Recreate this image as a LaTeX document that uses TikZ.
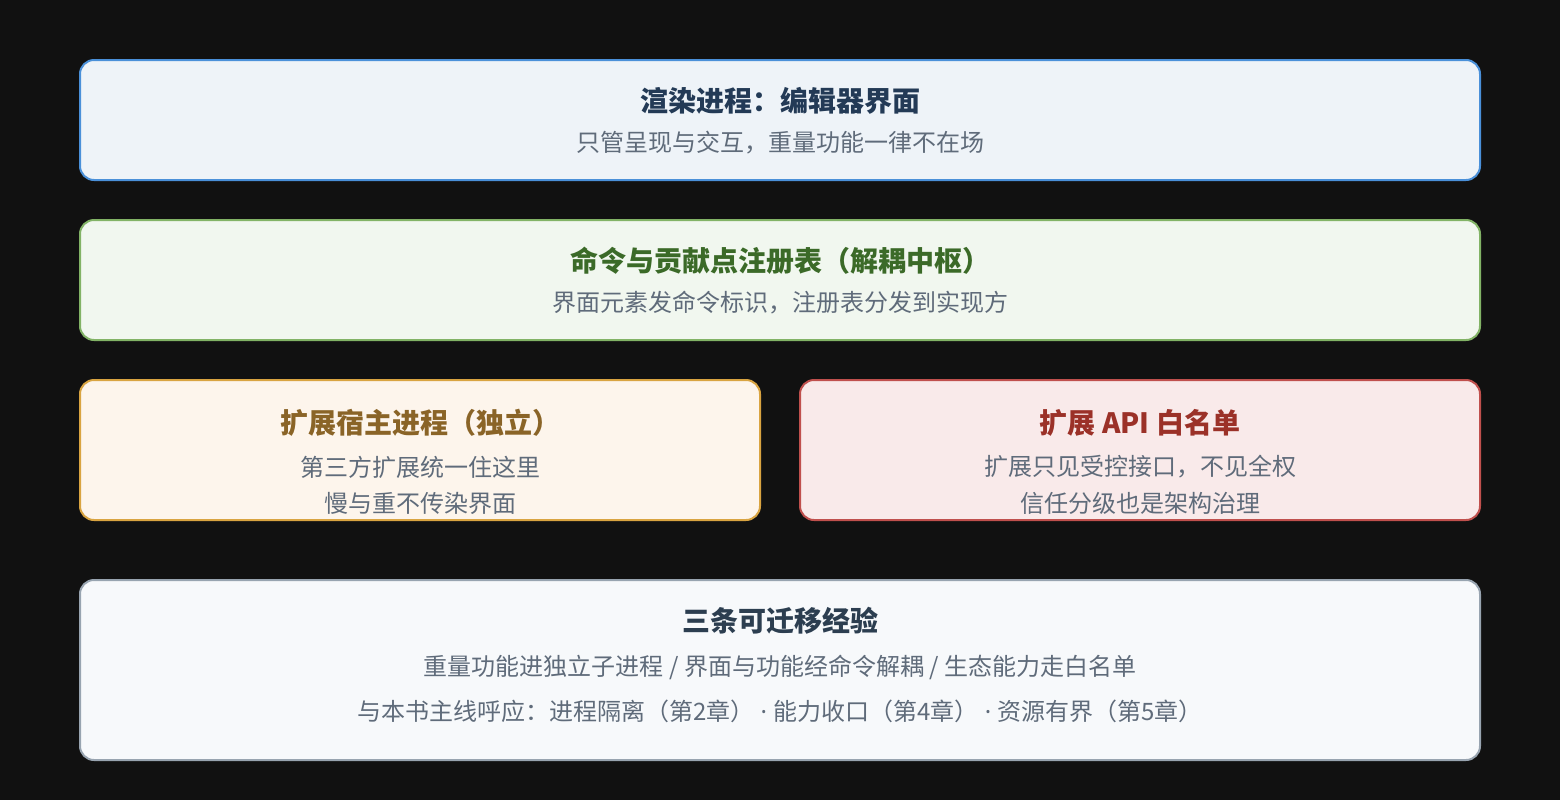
\documentclass[tikz,border=0pt]{standalone}
\usepackage{fontspec}
\setmainfont{Noto Sans CJK SC}
\newfontfamily\latin{Noto Sans}
\usepackage{tikz}
\usetikzlibrary{positioning}
\definecolor{bg}{HTML}{111111}
\definecolor{subgrey}{HTML}{5F6B7A}
\definecolor{blueline}{HTML}{4A90D9}
\definecolor{bluefill}{HTML}{EEF3F8}
\definecolor{bluetext}{HTML}{233A56}
\definecolor{greenline}{HTML}{82B366}
\definecolor{greenfill}{HTML}{F1F7EF}
\definecolor{greentext}{HTML}{3B6A28}
\definecolor{orangeline}{HTML}{D9A441}
\definecolor{orangefill}{HTML}{FDF5EC}
\definecolor{orangetext}{HTML}{8A6427}
\definecolor{redline}{HTML}{C0504D}
\definecolor{redfill}{HTML}{F9EAEA}
\definecolor{redtext}{HTML}{9B3128}
\definecolor{greyline}{HTML}{98A4B0}
\definecolor{greyfill}{HTML}{F7F9FB}
\definecolor{greytext}{HTML}{2C3E50}
\tikzset{
    panel/.style={
           rectangle,
           rounded corners=10.5pt,
           line width=1.5pt,
           inner sep=0pt,
           },
    title/.style={
           inner sep=0pt,
           font=\fontsize{21pt}{25pt}\selectfont\bfseries,
           },
    note/.style={
           inner sep=0pt,
           text=subgrey,
           font=\fontsize{18pt}{22pt}\selectfont,
           },
}
\newcommand{\middot}{{\latin\ ·\ }}

\begin{document}
\begin{tikzpicture}[x=0.75pt,y=-0.75pt]
  \fill[bg] (0,0) rectangle (1560,800);
  \useasboundingbox (0,0) rectangle (1560,800);
  % render process
  \node[panel, draw=blueline, fill=bluefill, minimum width=1050pt, minimum height=90pt] (render) at (780,120) {};
  \node[title, text=bluetext] (renderT) at (780,101) {渲染进程：编辑器界面};
  \node[note] (renderS) at (780,143) {只管呈现与交互，重量功能一律不在场};
  % registry
  \node[panel, draw=greenline, fill=greenfill, minimum width=1050pt, minimum height=90pt] (reg) at (780,280) {};
  \node[title, text=greentext] (regT) at (780,261) {命令与贡献点注册表（解耦中枢）};
  \node[note] (regS) at (780,303) {界面元素发命令标识，注册表分发到实现方};
  % extension host
  \node[panel, draw=orangeline, fill=orangefill, minimum width=510pt, minimum height=105pt] (host) at (420,450) {};
  \node[title, text=orangetext] (hostT) at (420,423) {扩展宿主进程（独立）};
  \node[note] (hostA) at (420,467) {第三方扩展统一住这里};
  \node[note] (hostB) at (420,503) {慢与重不传染界面};
  % api whitelist
  \node[panel, draw=redline, fill=redfill, minimum width=510pt, minimum height=105pt] (api) at (1140,450) {};
  \node[title, text=redtext] (apiT) at (1140,423) {扩展 API 白名单};
  \node[note] (apiA) at (1140,467) {扩展只见受控接口，不见全权};
  \node[note] (apiB) at (1140,503) {信任分级也是架构治理};
  % lessons
  \node[panel, draw=greyline, fill=greyfill, minimum width=1050pt, minimum height=135pt] (sum) at (780,670) {};
  \node[title, text=greytext] (sumT) at (780,621) {三条可迁移经验};
  \node[note] (sumA) at (780,667) {重量功能进独立子进程 / 界面与功能经命令解耦 / 生态能力走白名单};
  \node[note] (sumB) at (780,711) {与本书主线呼应：进程隔离（第2章）\middot 能力收口（第4章）\middot 资源有界（第5章）};
\end{tikzpicture}
\end{document}
